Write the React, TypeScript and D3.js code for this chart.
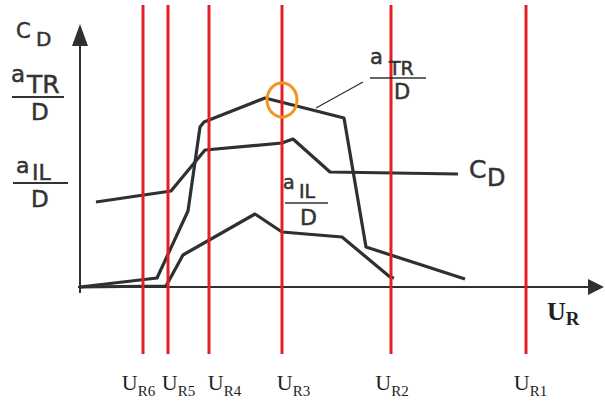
import React from "react";
import * as d3 from "d3";

// Horizontal axis: relative velocity U_R (arbitrary units), vertical: coefficient values
const cdCurve: [number, number][] = [
  [1.6, 8.5], [9.1, 9.6], [12.5, 13.7], [20.2, 14.4], [21.3, 14.8], [25.0, 11.5], [37.8, 11.3],
];
const aTrCurve: [number, number][] = [
  [0, 0], [7.7, 0.9], [10.8, 7.6], [12.0, 16.0], [12.4, 16.5], [18.5, 18.9], [26.4, 16.9], [28.6, 4.0], [38.5, 0.8],
];
const aIlCurve: [number, number][] = [
  [0, 0], [8.6, 0.1], [10.3, 3.2], [17.5, 7.3], [20.2, 5.5], [26.2, 5.0], [31.0, 1.0], [31.4, 0.9],
];
const velocityNames = ["R6", "R5", "R4", "R3", "R2", "R1"];
const velocityMarks = [6.3, 8.8, 12.9, 20.2, 31.1, 44.6];
const velocityLabelCenters = [5.85, 9.85, 14.45, 21.35, 31.2, 45.05];
// point of interest on the a_TR curve at U_R3
const highlight: [number, number] = [20.2, 18.7];

const W = 605;
const H = 402;
const x = d3.scaleLinear().domain([0, 52]).range([80, 600]);
const y = d3.scaleLinear().domain([0, 26]).range([287, 27]);

const ink = "#2d3130";
const red = "#e31e27";
const orange = "#f39422";
const sans = "'DejaVu Sans', sans-serif";
const serif = "'Liberation Serif', 'Times New Roman', serif";

const line = d3
  .line<[number, number]>()
  .x((d) => x(d[0]))
  .y((d) => y(d[1]));

export default function App() {
  const axisX = x(0);
  const axisY = y(0);
  return (
    <svg
      width={W}
      height={H}
      viewBox={`0 0 ${W} ${H}`}
      style={{ position: "absolute", left: 0, top: 0, background: "#fff" }}
    >
      {/* axes */}
      <line x1={axisX} y1={293} x2={axisX} y2={40} stroke={ink} strokeWidth={2} />
      <path d={`M${axisX - 8},46 L${axisX},24 L${axisX + 8},46 Z`} fill={ink} />
      <line x1={axisX - 2} y1={axisY} x2={592} y2={axisY} stroke={ink} strokeWidth={2} />
      <path d={`M588,${axisY - 8} L604,${axisY} L588,${axisY + 8} Z`} fill={ink} />

      {/* curves */}
      {[cdCurve, aTrCurve, aIlCurve].map((c, i) => (
        <path
          key={i}
          d={line(c) ?? ""}
          fill="none"
          stroke={ink}
          strokeWidth={3.2}
          strokeLinejoin="round"
          strokeLinecap="butt"
        />
      ))}

      {/* leader for a_TR label */}
      <line x1={316} y1={108} x2={363} y2={82} stroke={ink} strokeWidth={1.3} />

      {/* velocity markers */}
      {velocityMarks.map((v, i) => (
        <line key={i} x1={x(v)} y1={5} x2={x(v)} y2={354} stroke={red} strokeWidth={3} />
      ))}

      {/* highlighted point */}
      <ellipse
        cx={x(highlight[0])}
        cy={y(highlight[1])}
        rx={15}
        ry={17}
        fill="none"
        stroke={orange}
        strokeWidth={3}
      />

      {/* velocity labels */}
      {velocityNames.map((n, i) => (
        <text
          key={n}
          x={x(velocityLabelCenters[i])}
          y={390}
          textAnchor="middle"
          fontFamily={serif}
          fill="#1e1e1e"
        >
          <tspan fontSize={22}>U</tspan>
          <tspan fontSize={15} dy={6}>{n}</tspan>
        </text>
      ))}

      {/* axis titles */}
      <text x={547} y={320} fontFamily={serif} fontWeight="bold" fill="#222">
        <tspan fontSize={26}>U</tspan>
        <tspan fontSize={19} dy={5}>R</tspan>
      </text>

      <g fontFamily={sans} fill="#333" stroke="#333" strokeWidth={0.5}>
        {/* C_D at top of y-axis */}
        <text x={16} y={38} fontSize={21}>C</text>
        <text x={36} y={46} fontSize={20}>D</text>

        {/* a_TR / D on y-axis */}
        <text x={11} y={82} fontSize={23}>a</text>
        <text x={27} y={93} fontSize={25}>TR</text>
        <line x1={12} y1={97} x2={64} y2={97} strokeWidth={1.8} />
        <text x={31} y={120} fontSize={23}>D</text>

        {/* a_IL / D on y-axis */}
        <text x={16} y={173} fontSize={22}>a</text>
        <text x={32} y={180} fontSize={22}>IL</text>
        <line x1={13} y1={183} x2={68} y2={183} strokeWidth={1.8} />
        <text x={31} y={207} fontSize={23}>D</text>

        {/* a_TR / D curve label */}
        <text x={370} y={64} fontSize={21}>a</text>
        <text x={389} y={75} fontSize={19}>TR</text>
        <line x1={370} y1={78} x2={426} y2={78} strokeWidth={1.5} />
        <text x={394} y={99} fontSize={21}>D</text>

        {/* a_IL / D curve label */}
        <text x={283} y={189} fontSize={19}>a</text>
        <text x={299} y={198} fontSize={19}>IL</text>
        <line x1={285} y1={203} x2={328} y2={203} strokeWidth={1.5} />
        <text x={300} y={225} fontSize={22}>D</text>

        {/* C_D curve label */}
        <text x={469} y={178} fontSize={25}>C</text>
        <text x={487} y={186} fontSize={24}>D</text>
      </g>
    </svg>
  );
}
